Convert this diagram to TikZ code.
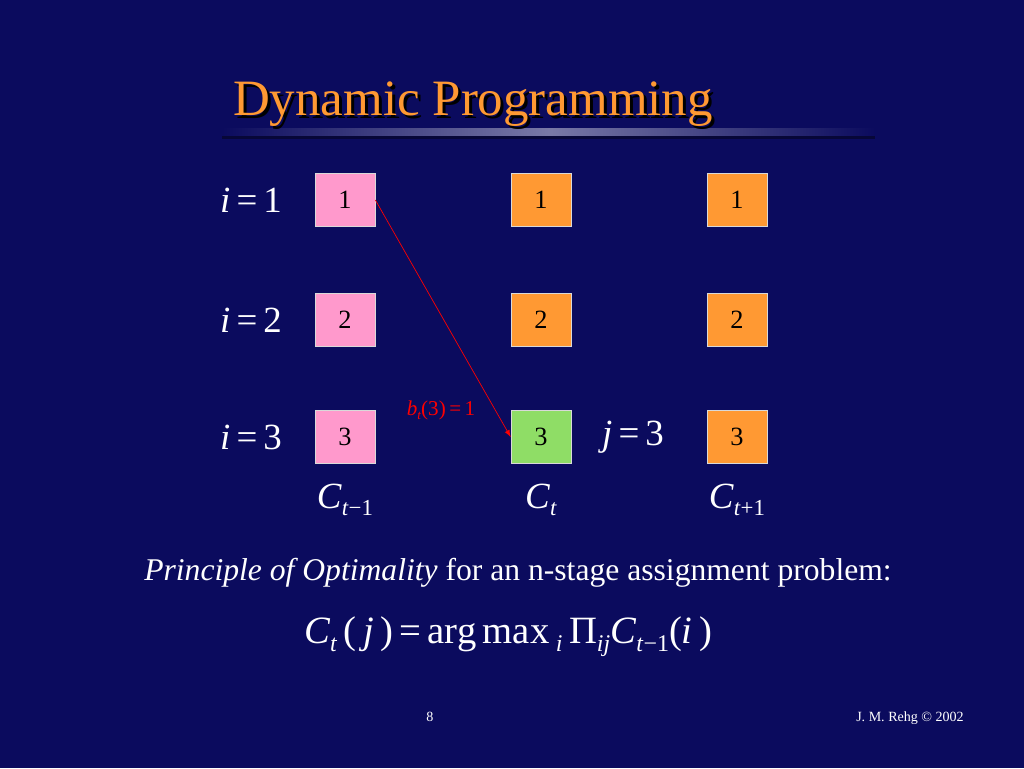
\documentclass[tikz,border=0pt]{standalone}
\usepackage{fontspec}
\setmainfont{Liberation Serif}
\newcommand\sbx[1]{\raisebox{-0.45ex}{\fontsize{0.62em}{1em}\selectfont #1}}
\begin{document}
\begin{tikzpicture}[x=0.02cm,y=-0.02cm,
  cell/.style={draw=white!70!gray,line width=0.4pt,minimum width=60*0.02cm,minimum height=53*0.02cm,inner sep=0pt,font=\fontsize{15}{17}\selectfont},
  lab/.style={text=white,font=\fontsize{21}{24}\selectfont},
  sml/.style={text=white,font=\fontsize{8}{10}\selectfont}]
\definecolor{bg}{HTML}{0B0B5E}
\definecolor{pk}{HTML}{FF99CC}
\definecolor{og}{HTML}{FF9933}
\definecolor{gr}{HTML}{8FDD66}
\fill[bg] (0,0) rectangle (1024,768);
\useasboundingbox (0,0) rectangle (1024,768);
% title bar
\shade[left color=bg,right color=bg,middle color=bg!55!white] (222,128) rectangle (875,136);
\fill[bg!60!black] (222,136) rectangle (875,139);
% title
\node[text=black,font=\fontsize{29}{32}\selectfont] at (476,107) {Dynamic Programming};
\node[text=og,font=\fontsize{29}{32}\selectfont] (title) at (473,104) {Dynamic Programming};
% cells
\foreach \r/\y in {1/200,2/320,3/437}{
  \node[cell,fill=pk] (a\r) at (345,\y) {\r};
  \node[cell,fill=og] (c\r) at (737,\y) {\r};
  \node[lab] (i\r) at (251,\y) {\textit{i}\,=\,\r};
}
\node[cell,fill=og] (b1) at (541,200) {1};
\node[cell,fill=og] (b2) at (541,320) {2};
\node[cell,fill=gr] (b3) at (541,437) {3};
\node[lab] (j3) at (633,437) {\textit{j}\,=\,3};
\draw[red,-latex] (a1.east) -- (b3.west);
\node[text=red,font=\fontsize{12}{14}\selectfont] (bl) at (441,410) {\textit{b}\sbx{\textit{t}}(3)\,=\,1};
\node[lab] (C1) at (345,500) {\textit{C}\sbx{\textit{t}−1}};
\node[lab] (C2) at (541,500) {\textit{C}\sbx{\textit{t}}};
\node[lab] (C3) at (737,500) {\textit{C}\sbx{\textit{t}+1}};
\node[text=white,font=\fontsize{18}{21}\selectfont] (pr) at (518,573) {\textit{Principle of Optimality} for an n-stage assignment problem:};
\node[text=white,font=\fontsize{22}{25}\selectfont] (eq) at (508,637) {\textit{C}\sbx{\textit{t}}\,(\,\textit{j}\,)\,=\,arg\,max\,\sbx{\textit{i}}\,Π\sbx{\textit{ij}}\textit{C}\sbx{\textit{t}−1}(\textit{i}\,)};
\node[sml] (pg) at (430,717) {8};
\node[sml] (au) at (910,718) {J. M. Rehg © 2002};
\end{tikzpicture}
\end{document}
